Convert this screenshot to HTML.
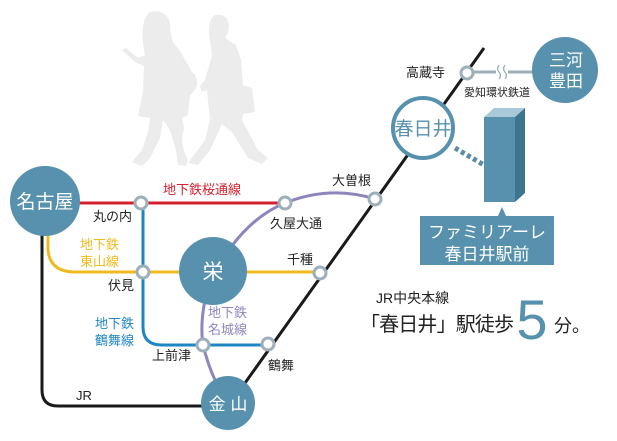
<!DOCTYPE html>
<html><head><meta charset="utf-8"><style>
html,body{margin:0;padding:0;background:#fff;}
svg{display:block;}
text{font-family:"Liberation Sans","Noto Sans CJK JP",sans-serif;}
</style></head><body>
<svg width="617" height="441" viewBox="0 0 617 441" xmlns="http://www.w3.org/2000/svg">
<g fill="#ececed">
<path d="M150,12 C165,8 172,20 170,30 L173,42 C180,50 185,60 188,65 L192,72 C200,78 198,90 190,95 L188,115 L182,118 L184,128 C180,140 183,150 188,160 L186,166 L178,165 L176,150 L170,130 L163,120 L160,138 L150,158 L142,166 L132,162 L142,150 L148,132 L150,118 L138,116 L143,92 L144,66 L135,62 L122,50 L126,48 L138,58 L145,55 C142,40 140,20 150,12 Z"/>
<path d="M215,15 C225,13 231,20 228,32 L225,38 L236,45 L241,60 L243,85 L252,88 L255,112 L243,114 L242,120 L258,150 L268,158 L262,164 L248,158 L232,132 L222,124 L210,150 L198,165 L188,163 L205,140 L210,120 L207,90 L202,92 L200,86 L205,80 L212,56 L210,40 C208,30 209,18 215,15 Z"/>
</g>
<path d="M42,230 L42,390 Q42,406 58,406 L205,406" fill="none" stroke="#1a1a1a" stroke-width="3"/>
<line x1="240" y1="390" x2="484" y2="48" stroke="#1a1a1a" stroke-width="3"/>
<line x1="78" y1="203" x2="285" y2="203" stroke="#d3202e" stroke-width="3"/>
<path d="M48,234 L48,250 Q50,272 75,272 L320,272" fill="none" stroke="#eeba1e" stroke-width="3"/>
<path d="M143,203 L143,327 Q143,345 162,345 L268,345" fill="none" stroke="#1f86c6" stroke-width="3"/>
<path d="M231,247 Q255,215 285,203 Q330,185 375,199" fill="none" stroke="#8d86be" stroke-width="3"/>
<path d="M205,300 Q200,325 203,345 Q208,365 215,380" fill="none" stroke="#8d86be" stroke-width="3"/>
<line x1="472" y1="72" x2="535" y2="72" stroke="#9db0ba" stroke-width="3"/>
<rect x="496" y="64" width="12" height="16" fill="#fff"/>
<path d="M499,65 q-3,4 0,7 q3,4 0,7 M505,65 q-3,4 0,7 q3,4 0,7" fill="none" stroke="#9db0ba" stroke-width="1.3"/>
<line x1="455" y1="148" x2="484" y2="165" stroke="#5a8ea8" stroke-width="5" stroke-dasharray="4,3"/>
<polygon points="484,117 515,117 525,108 494,108" fill="#a9c9d8"/>
<polygon points="515,117 525,108 525,193 515,202" fill="#3c7590"/>
<rect x="484" y="117" width="31" height="85" fill="#5791ad"/>
<polygon points="498,216 502,207 506,216" fill="#5791ad"/>
<rect x="420" y="216" width="134" height="49" fill="#5791ad"/>
<text x="487" y="238" font-size="17" fill="#fff" text-anchor="middle">ファミリアーレ</text>
<text x="487" y="260" font-size="17" fill="#fff" text-anchor="middle">春日井駅前</text>
<circle cx="45" cy="201" r="35" fill="#5791ad"/>
<text x="45" y="208" font-size="19" fill="#fff" text-anchor="middle">名古屋</text>
<circle cx="213" cy="271" r="34" fill="#5791ad"/>
<text x="213" y="279" font-size="21" fill="#fff" text-anchor="middle">栄</text>
<circle cx="228" cy="403" r="27" fill="#5791ad"/>
<text x="228" y="410" font-size="17" fill="#fff" text-anchor="middle">金 山</text>
<circle cx="565" cy="70" r="33" fill="#5791ad"/>
<text x="566" y="66" font-size="17" fill="#fff" text-anchor="middle">三河</text>
<text x="566" y="87" font-size="17" fill="#fff" text-anchor="middle">豊田</text>
<circle cx="423" cy="128" r="30" fill="#fff" stroke="#5791ad" stroke-width="4"/>
<text x="423" y="135" font-size="19" fill="#5791ad" text-anchor="middle">春日井</text>
<g fill="#fff" stroke="#9db0ba" stroke-width="3">
<circle cx="141" cy="203" r="6"/><circle cx="285" cy="203" r="6"/><circle cx="375" cy="199" r="6"/>
<circle cx="143" cy="272" r="6"/><circle cx="320" cy="273" r="6"/>
<circle cx="203" cy="345" r="6"/><circle cx="268" cy="344" r="6"/>
<circle cx="467" cy="73" r="6"/>
</g>
<g font-size="13" fill="#222">
<text x="93" y="221">丸の内</text>
<text x="270" y="228">久屋大通</text>
<text x="332" y="185">大曽根</text>
<text x="287" y="264">千種</text>
<text x="108" y="290">伏見</text>
<text x="152" y="360">上前津</text>
<text x="268" y="370">鶴舞</text>
<text x="76" y="400">JR</text>
<text x="406" y="77">高蔵寺</text>
<text x="464" y="96" font-size="11">愛知環状鉄道</text>
</g>
<text x="163" y="194" font-size="13" fill="#d3202e">地下鉄桜通線</text>
<text x="80" y="249" font-size="13" fill="#eeba1e">地下鉄</text>
<text x="80" y="266" font-size="13" fill="#eeba1e">東山線</text>
<text x="95" y="328" font-size="13" fill="#1f86c6">地下鉄</text>
<text x="95" y="345" font-size="13" fill="#1f86c6">鶴舞線</text>
<text x="208" y="317" font-size="13" fill="#8d86be">地下鉄</text>
<text x="208" y="334" font-size="13" fill="#8d86be">名城線</text>
<text x="376" y="303" font-size="14" fill="#222">JR中央本線</text>
<text x="360" y="331" font-size="20" fill="#222" textLength="154" lengthAdjust="spacing">「春日井」駅徒歩</text>
<text x="532" y="339" font-size="56" fill="#5791ad" text-anchor="middle">5</text>
<text x="554" y="332" font-size="18" fill="#222">分。</text>
</svg>
</body></html>
